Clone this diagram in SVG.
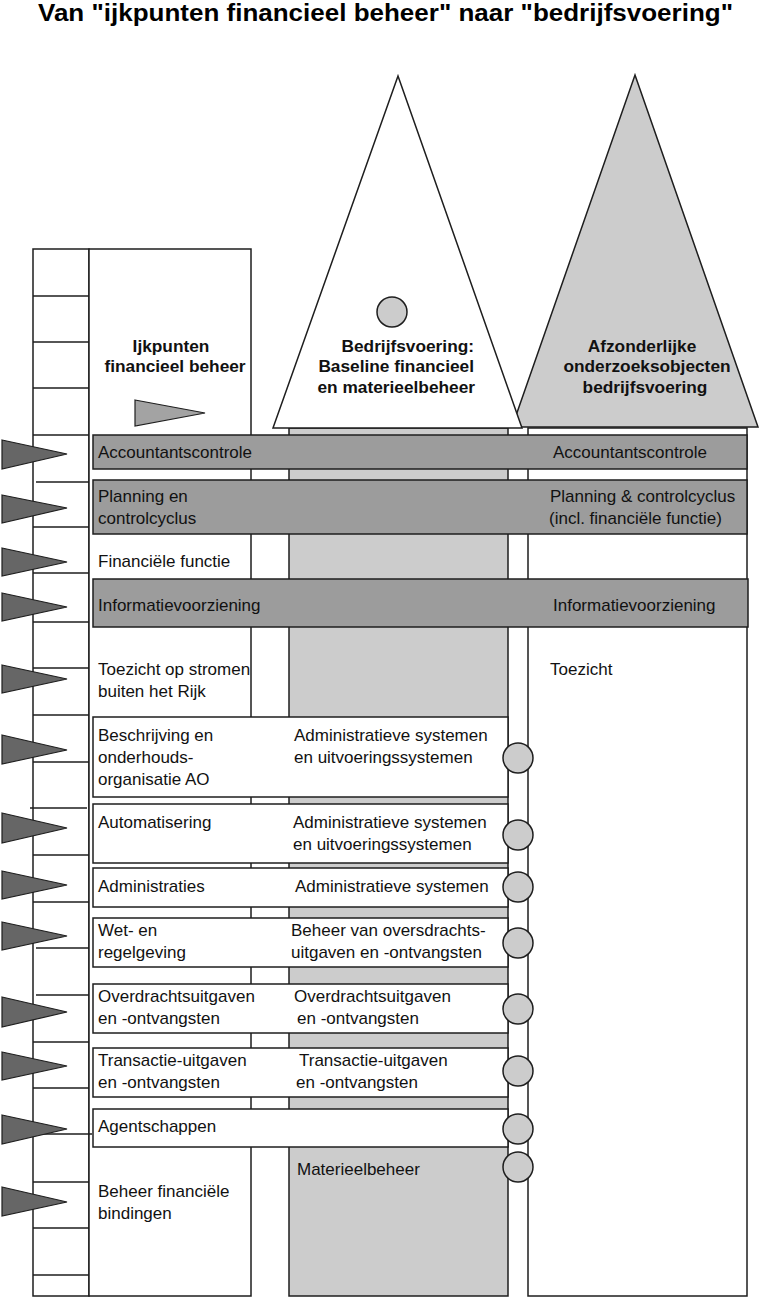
<svg xmlns="http://www.w3.org/2000/svg" width="764" height="1302" viewBox="0 0 764 1302">
<style>
  .ln{stroke:#1e1e1e;stroke-width:1.5;}
  .col{fill:#fff;stroke:#1e1e1e;stroke-width:1.5;}
  .gcol{fill:#cccccc;stroke:#1e1e1e;stroke-width:1.5;}
  .bar{fill:#9c9c9c;stroke:#1e1e1e;stroke-width:1.5;}
  .box{fill:#fff;stroke:#1e1e1e;stroke-width:1.5;}
  .dot{fill:#cccccc;stroke:#1e1e1e;stroke-width:1.5;}
  .arr{fill:#666666;stroke:#1e1e1e;stroke-width:1.2;}
  .t{font-family:"Liberation Sans",Arial,sans-serif;font-size:17px;fill:#111;}
  .b{font-family:"Liberation Sans",Arial,sans-serif;font-size:17.3px;font-weight:bold;fill:#111;}
  .title{font-family:"Liberation Sans",Arial,sans-serif;font-size:23px;font-weight:bold;fill:#000;}
</style>

<text class="title" x="38" y="21" textLength="695" lengthAdjust="spacingAndGlyphs">Van "ijkpunten financieel beheer" naar "bedrijfsvoering"</text>

<g id="ijkpunten-column">
  <rect class="col" x="33" y="249" width="56" height="1047"/>
  <rect class="col" x="89" y="249" width="162" height="1047"/>
  <g class="ln">
    <line x1="33" y1="296" x2="89" y2="296"/>
    <line x1="33" y1="342" x2="89" y2="342"/>
    <line x1="33" y1="388" x2="89" y2="388"/>
    <line x1="33" y1="435" x2="89" y2="435"/>
    <line x1="36" y1="482" x2="89" y2="482"/>
    <line x1="33" y1="527" x2="89" y2="527"/>
    <line x1="33" y1="573" x2="89" y2="573"/>
    <line x1="33" y1="622" x2="89" y2="622"/>
    <line x1="33" y1="668" x2="89" y2="668"/>
    <line x1="33" y1="715" x2="89" y2="715"/>
    <line x1="33" y1="762" x2="89" y2="762"/>
    <line x1="30" y1="808" x2="87" y2="808"/>
    <line x1="33" y1="855" x2="89" y2="855"/>
    <line x1="33" y1="902" x2="89" y2="902"/>
    <line x1="36" y1="948" x2="89" y2="948"/>
    <line x1="36" y1="995" x2="89" y2="995"/>
    <line x1="33" y1="1042" x2="89" y2="1042"/>
    <line x1="33" y1="1088" x2="89" y2="1088"/>
    <line x1="36" y1="1134" x2="92" y2="1134"/>
    <line x1="33" y1="1182" x2="89" y2="1182"/>
    <line x1="33" y1="1228" x2="89" y2="1228"/>
    <line x1="33" y1="1275" x2="89" y2="1275"/>
  </g>
  <polygon points="135,400 205,413 135,426" fill="#a3a3a3" stroke="#1e1e1e" stroke-width="1.2"/>
  <text class="b" x="171" y="352" text-anchor="middle">Ijkpunten</text>
  <text class="b" x="175" y="372" text-anchor="middle">financieel beheer</text>
</g>

<g id="bedrijfsvoering-column">
  <rect class="gcol" x="289" y="428" width="219" height="868"/>
</g>

<g id="afzonderlijke-column">
  <rect class="col" x="528" y="428" width="219" height="868"/>
</g>

<g id="afzonderlijke-triangle">
  <polygon points="635,75 758,427 512,427" fill="#cccccc" stroke="#1e1e1e" stroke-width="1.5"/>
  <text class="b" x="642" y="352" text-anchor="middle">Afzonderlijke</text>
  <text class="b" x="647" y="372" text-anchor="middle">onderzoeksobjecten</text>
  <text class="b" x="645" y="393" text-anchor="middle">bedrijfsvoering</text>
</g>

<g id="bedrijfsvoering-triangle">
  <polygon points="398,76 522,428 273,428" fill="#fff" stroke="#1e1e1e" stroke-width="1.5"/>
  <circle class="dot" cx="392" cy="312" r="15"/>
  <text class="b" x="474" y="352" text-anchor="end">Bedrijfsvoering:</text>
  <text class="b" x="474" y="372" text-anchor="end">Baseline financieel</text>
  <text class="b" x="475" y="393" text-anchor="end">en materieelbeheer</text>
</g>

<g id="accountantscontrole">
  <rect class="bar" x="93" y="435" width="654" height="34"/>
  <text class="t" x="98" y="458">Accountantscontrole</text>
  <text class="t" x="553" y="458">Accountantscontrole</text>
</g>

<g id="planning">
  <rect class="bar" x="93" y="480" width="654" height="54"/>
  <text class="t" x="98" y="502">Planning en</text>
  <text class="t" x="98" y="524">controlcyclus</text>
  <text class="t" x="550" y="502">Planning &amp; controlcyclus</text>
  <text class="t" x="549" y="524">(incl. financiële functie)</text>
</g>

<g id="financiele-functie">
  <text class="t" x="98" y="567">Financiële functie</text>
</g>

<g id="informatievoorziening">
  <rect class="bar" x="93" y="579" width="655" height="48"/>
  <text class="t" x="98" y="611">Informatievoorziening</text>
  <text class="t" x="553" y="611">Informatievoorziening</text>
</g>

<g id="toezicht">
  <text class="t" x="98" y="675">Toezicht op stromen</text>
  <text class="t" x="98" y="697">buiten het Rijk</text>
  <text class="t" x="550" y="675">Toezicht</text>
</g>

<g id="beschrijving">
  <rect class="box" x="93" y="717" width="415" height="80"/>
  <text class="t" x="98" y="741">Beschrijving en</text>
  <text class="t" x="98" y="763">onderhouds-</text>
  <text class="t" x="98" y="785">organisatie AO</text>
  <text class="t" x="294" y="741">Administratieve systemen</text>
  <text class="t" x="294" y="763">en uitvoeringssystemen</text>
</g>

<g id="automatisering">
  <rect class="box" x="93" y="804" width="415" height="59"/>
  <text class="t" x="98" y="828">Automatisering</text>
  <text class="t" x="293" y="828">Administratieve systemen</text>
  <text class="t" x="293" y="850">en uitvoeringssystemen</text>
</g>

<g id="administraties">
  <rect class="box" x="93" y="868" width="415" height="39"/>
  <text class="t" x="98" y="892">Administraties</text>
  <text class="t" x="295" y="892">Administratieve systemen</text>
</g>

<g id="wet-regelgeving">
  <rect class="box" x="93" y="918" width="415" height="49"/>
  <text class="t" x="98" y="936">Wet- en</text>
  <text class="t" x="98" y="958">regelgeving</text>
  <text class="t" x="291" y="936">Beheer van oversdrachts-</text>
  <text class="t" x="291" y="958">uitgaven en -ontvangsten</text>
</g>

<g id="overdrachtsuitgaven">
  <rect class="box" x="93" y="984" width="415" height="49"/>
  <text class="t" x="98" y="1002">Overdrachtsuitgaven</text>
  <text class="t" x="98" y="1024">en -ontvangsten</text>
  <text class="t" x="294" y="1002">Overdrachtsuitgaven</text>
  <text class="t" x="297" y="1024">en -ontvangsten</text>
</g>

<g id="transactie-uitgaven">
  <rect class="box" x="93" y="1048" width="415" height="49"/>
  <text class="t" x="98" y="1066">Transactie-uitgaven</text>
  <text class="t" x="98" y="1088">en -ontvangsten</text>
  <text class="t" x="299" y="1066">Transactie-uitgaven</text>
  <text class="t" x="296" y="1088">en -ontvangsten</text>
</g>

<g id="agentschappen">
  <rect class="box" x="93" y="1109" width="415" height="38"/>
  <text class="t" x="98" y="1132">Agentschappen</text>
</g>

<g id="materieelbeheer">
  <text class="t" x="297" y="1175">Materieelbeheer</text>
</g>

<g id="beheer-financiele-bindingen">
  <text class="t" x="98" y="1197">Beheer financiële</text>
  <text class="t" x="98" y="1219">bindingen</text>
</g>

<g id="markers">
  <circle class="dot" cx="518" cy="758" r="15"/>
  <circle class="dot" cx="518" cy="835" r="15"/>
  <circle class="dot" cx="518" cy="887" r="15"/>
  <circle class="dot" cx="518" cy="943" r="15"/>
  <circle class="dot" cx="518" cy="1009" r="15"/>
  <circle class="dot" cx="518" cy="1071" r="15"/>
  <circle class="dot" cx="518" cy="1129" r="15"/>
  <circle class="dot" cx="518" cy="1167" r="15"/>
</g>

<g id="connectors">
  <polygon class="arr" points="2,440 67,454 2,469"/>
  <polygon class="arr" points="2,495 67,508 2,523"/>
  <polygon class="arr" points="2,548 67,562 2,576"/>
  <polygon class="arr" points="2,593 67,607 2,621"/>
  <polygon class="arr" points="2,665 67,679 2,693"/>
  <polygon class="arr" points="2,735 67,750 2,764"/>
  <polygon class="arr" points="2,813 67,828 2,843"/>
  <polygon class="arr" points="2,871 67,885 2,899"/>
  <polygon class="arr" points="2,922 67,936 2,950"/>
  <polygon class="arr" points="2,997 67,1012 2,1027"/>
  <polygon class="arr" points="2,1052 67,1066 2,1080"/>
  <polygon class="arr" points="2,1115 67,1129 2,1144"/>
  <polygon class="arr" points="2,1187 67,1202 2,1216"/>
</g>
</svg>
